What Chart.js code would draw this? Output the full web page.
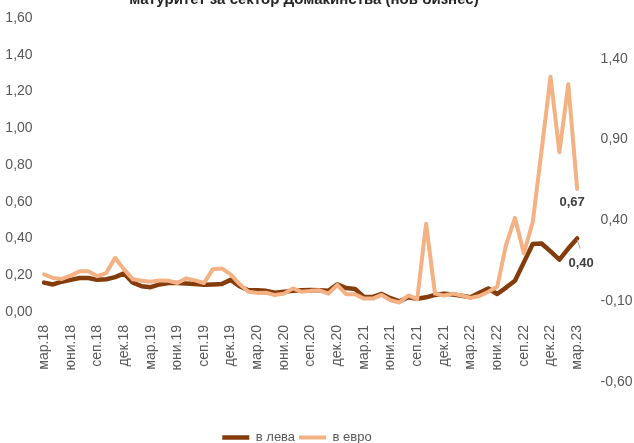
<!DOCTYPE html>
<html>
<head>
<meta charset="utf-8">
<script src="https://cdn.jsdelivr.net/npm/chart.js@4/dist/chart.umd.min.js"></script>
<style>
  html, body { margin: 0; padding: 0; background: #fff; }
  #wrap { width: 634px; height: 443px; }
</style>
</head>
<body>
<div id="wrap"><canvas id="mainChart" width="634" height="443"></canvas></div>
<script>
// Monthly series, mar.18 .. mar.23
const monthNames = ['яну', 'фев', 'мар', 'апр', 'май', 'юни', 'юли', 'авг', 'сеп', 'окт', 'ное', 'дек'];
const titleText = 'матуритет за сектор Домакинства (нов бизнес)';

const levValues = [
    0.16, 0.15, 0.165, 0.175, 0.185, 0.185, 0.175, 0.178, 0.19, 0.21,
    0.16, 0.14, 0.135, 0.15, 0.158, 0.158, 0.155, 0.152, 0.148, 0.15,
    0.152, 0.175, 0.14, 0.118, 0.118, 0.115, 0.105, 0.11, 0.115, 0.118,
    0.12, 0.118, 0.115, 0.15, 0.13, 0.125, 0.082, 0.082, 0.098, 0.075,
    0.058, 0.08, 0.072, 0.08, 0.093, 0.1, 0.095, 0.088, 0.08, 0.105,
    0.128, 0.098, 0.133, 0.17, 0.27, 0.37, 0.373, 0.33, 0.285, 0.345,
    0.40
];
const euroValues = [
    0.205, 0.185, 0.18, 0.198, 0.222, 0.222, 0.195, 0.212, 0.295, 0.232,
    0.178, 0.17, 0.165, 0.172, 0.17, 0.158, 0.183, 0.172, 0.158, 0.233,
    0.237, 0.205, 0.152, 0.11, 0.104, 0.105, 0.092, 0.1, 0.128, 0.11,
    0.115, 0.118, 0.1, 0.147, 0.097, 0.097, 0.073, 0.073, 0.093, 0.064,
    0.052, 0.09, 0.07, 0.48, 0.10, 0.09, 0.10, 0.09, 0.077, 0.087,
    0.11, 0.137, 0.365, 0.512, 0.32, 0.49, 0.88, 1.28, 0.87, 1.24,
    0.67
];

const leftTicks = [0, 0.2, 0.4, 0.6, 0.8, 1.0, 1.2, 1.4, 1.6];
const rightTicks = [-0.6, -0.1, 0.4, 0.9, 1.4];

// category labels like "мар.18"
const labels = [];
for (let i = 0; i < levValues.length; i++) {
    const m = (2 + i) % 12;
    const y = 18 + Math.floor((2 + i) / 12);
    labels.push(monthNames[m] + '.' + y);
}

const fmt = v => v.toFixed(2).replace('.', ',');
const sans = '"Liberation Sans", Arial, sans-serif';
const grey = '#595959';

// cut-off heading at the very top
const titlePlugin = {
    id: 'topTitle',
    afterDraw(chart) {
        const ctx = chart.ctx;
        ctx.save();
        ctx.font = 'bold 15px ' + sans;
        ctx.fillStyle = '#262626';
        ctx.textAlign = 'center';
        ctx.textBaseline = 'alphabetic';
        ctx.fillText(titleText, 304, 4);
        ctx.restore();
    }
};

// values at the last point of each line
const endLabels = {
    id: 'endLabels',
    afterDatasetsDraw(chart) {
        const ctx = chart.ctx;
        ctx.save();
        ctx.font = 'bold 13px ' + sans;
        ctx.fillStyle = '#404040';
        ctx.textAlign = 'center';
        ctx.textBaseline = 'middle';

        const eMeta = chart.getDatasetMeta(1);
        const eLast = eMeta.data[eMeta.data.length - 1];
        ctx.fillText(fmt(euroValues[euroValues.length - 1]), eLast.x - 5, eLast.y + 14);

        const lMeta = chart.getDatasetMeta(0);
        const lLast = lMeta.data[lMeta.data.length - 1];
        ctx.strokeStyle = '#a6a6a6';
        ctx.lineWidth = 1;
        ctx.beginPath();
        ctx.moveTo(lLast.x, lLast.y + 1);
        ctx.lineTo(lLast.x + 3, lLast.y + 10);
        ctx.stroke();
        ctx.fillText(fmt(levValues[levValues.length - 1]), lLast.x + 4, lLast.y + 25);
        ctx.restore();
    }
};

// move the legend row left and down a little
const legendShift = {
    id: 'legendShift',
    afterLayout(chart) {
        const lg = chart.legend;
        lg.left -= 20;
        lg.right -= 20;
        lg.top += 11;
        lg.bottom += 11;
    }
};

// fixed axis widths, no extra label padding above/below the plot
const fixY = w => s => {
    s.width = w;
    s.paddingTop = 0;
    s.paddingBottom = 0;
};

const ctx = document.getElementById('mainChart').getContext('2d');

new Chart(ctx, {
    type: 'line',
    data: {
        labels: labels,
        datasets: [{
            label: 'в лева',
            data: levValues,
            borderColor: '#843C0C',
            backgroundColor: '#843C0C',
            borderWidth: 4.5,
            borderCapStyle: 'round',
            borderJoinStyle: 'round',
            pointRadius: 0,
            tension: 0,
            order: 2,
            yAxisID: 'y'
        }, {
            label: 'в евро',
            data: euroValues,
            borderColor: '#F4B183',
            backgroundColor: '#F4B183',
            borderWidth: 4,
            borderCapStyle: 'round',
            borderJoinStyle: 'round',
            pointRadius: 0,
            tension: 0,
            order: 1,
            yAxisID: 'y'
        }]
    },
    options: {
        responsive: false,
        animation: false,
        layout: {
            padding: { top: 18, left: 0, right: 0, bottom: 0 }
        },
        plugins: {
            legend: {
                position: 'bottom',
                labels: {
                    usePointStyle: true,
                    pointStyle: 'line',
                    pointStyleWidth: 27,
                    boxHeight: 5,
                    padding: 4,
                    color: grey,
                    font: { family: sans, size: 13 },
                    sort: (a, b) => a.datasetIndex - b.datasetIndex
                }
            },
            tooltip: { enabled: false }
        },
        scales: {
            x: {
                offset: true,
                grid: { display: false, drawTicks: false },
                border: { display: false },
                afterFit: s => { s.height = 104; },
                ticks: {
                    autoSkip: false,
                    maxRotation: 90,
                    minRotation: 90,
                    padding: 13,
                    color: grey,
                    font: { family: sans, size: 14 },
                    callback: function (v, i) {
                        return i % 3 === 0 ? this.getLabelForValue(v) : null;
                    }
                }
            },
            y: {
                position: 'left',
                min: 0,
                max: 1.6,
                grid: { display: false, drawTicks: false },
                border: { display: false },
                afterFit: fixY(39.6),
                afterBuildTicks: s => { s.ticks = leftTicks.map(v => ({ value: v })); },
                ticks: {
                    padding: 7,
                    color: grey,
                    font: { family: sans, size: 14 },
                    callback: v => fmt(v)
                }
            },
            y2: {
                position: 'right',
                min: -0.1683,
                max: 1.6516,
                grid: { display: false, drawTicks: false },
                border: { display: false },
                afterFit: fixY(52.4),
                afterBuildTicks: s => { s.ticks = rightTicks.map(v => ({ value: v })); },
                ticks: {
                    padding: 19,
                    autoSkip: false,
                    color: grey,
                    font: { family: sans, size: 14 },
                    callback: v => fmt(v)
                }
            }
        }
    },
    plugins: [titlePlugin, endLabels, legendShift]
});
</script>
</body>
</html>
